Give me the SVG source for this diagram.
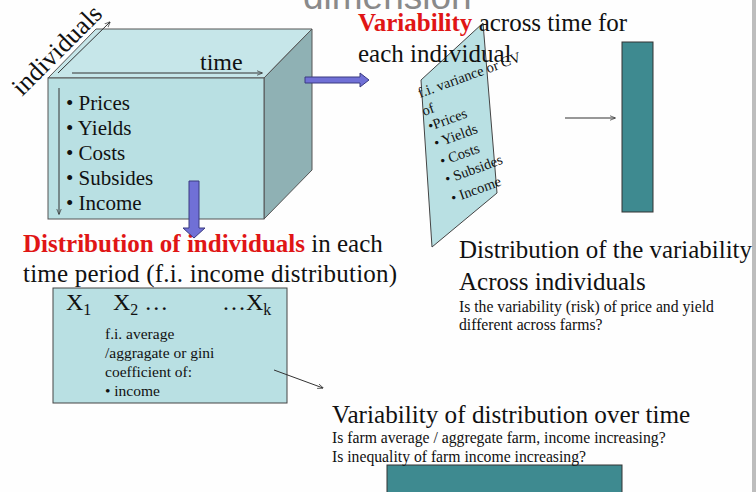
<svg xmlns="http://www.w3.org/2000/svg" width="756" height="492" viewBox="0 0 756 492">
<defs>
<style>
.s{font-family:"Liberation Serif","Times New Roman",serif;fill:#111}
.b{font-weight:bold;fill:#e01515}
.face{stroke:#555;stroke-width:1}
.ln{stroke:#333;stroke-width:1;fill:none}
.blk{fill:#3e8a90;stroke:#333;stroke-width:1}
.bar{fill:#7070d6;stroke:#3a3a80;stroke-width:1}
</style>
<marker id="ah" viewBox="0 0 10 10" refX="9" refY="5" markerWidth="6" markerHeight="6" orient="auto"><path d="M0,1 L10,5 L0,9" fill="none" stroke="#333" stroke-width="1.2"/></marker>
</defs>
<rect width="756" height="492" fill="#fefefe"/>
<rect x="752" y="0" width="4" height="492" fill="#bdbdbd"/>
<text x="303" y="9" font-family="Liberation Sans, Arial, sans-serif" font-size="37" fill="#8a8a8a">dimension</text>

<g id="cube">
<polygon class="face" points="48,78 96,29 312,29 264,78" fill="#c6e6e9"/>
<polygon class="face" points="264,78 312,29 312,170 264,219" fill="#8fb1b4"/>
<rect class="face" x="48" y="78" width="216" height="141" fill="#b9e0e3"/>
<text class="s" font-size="26" transform="translate(22,97) rotate(-45)">individuals</text>
<line class="ln" x1="58" y1="73" x2="110" y2="22" marker-end="url(#ah)"/>
<text class="s" x="200" y="70" font-size="24">time</text>
<line class="ln" x1="72" y1="73" x2="262" y2="73" marker-end="url(#ah)"/>
<line class="ln" x1="59" y1="88" x2="59" y2="214" marker-end="url(#ah)"/>
<text class="s" font-size="21"><tspan x="66" y="110">• Prices</tspan><tspan x="66" y="135">• Yields</tspan><tspan x="66" y="160">• Costs</tspan><tspan x="66" y="185">• Subsides</tspan><tspan x="66" y="210">• Income</tspan></text>
</g>

<g id="slice">
<polygon points="421,80 483,23 497,193 432,247" fill="#b9e0e3" stroke="#444" stroke-width="1"/>
</g>

<g id="title-variability">
<text class="s" x="358" y="31" font-size="25"><tspan class="b">Variability</tspan> across time for</text>
<text class="s" x="358" y="62" font-size="25">each individual</text>
</g>

<g id="slice-text" class="s" font-size="14.5">
<text x="420" y="98" transform="rotate(-20 420 98)">f.i. variance or CV</text>
<text x="424" y="116" transform="rotate(-20 424 116)">of</text>
<text x="430" y="131" transform="rotate(-20 430 131)">•Prices</text>
<text x="436" y="148" transform="rotate(-20 436 148)">• Yields</text>
<text x="442" y="166" transform="rotate(-20 442 166)">• Costs</text>
<text x="447" y="184" transform="rotate(-20 447 184)">• Subsides</text>
<text x="453" y="203" transform="rotate(-20 453 203)">• Income</text>
</g>

<g id="bar-right">
<rect class="blk" x="622" y="42" width="31" height="170"/>
</g>

<g id="distribution-box">
<rect x="53" y="288" width="234" height="115" fill="#b9e0e3" stroke="#444" stroke-width="1"/>
<text class="s" font-size="24" y="310"><tspan x="66">X</tspan><tspan font-size="16" dy="5">1</tspan><tspan x="113" dy="-5">X</tspan><tspan font-size="16" dy="5">2</tspan><tspan font-size="24" dy="-5"> …</tspan><tspan x="222">…X</tspan><tspan font-size="16" dy="5">k</tspan></text>
<text class="s" font-size="15.5"><tspan x="105" y="339">f.i. average</tspan><tspan x="105" y="358">/aggragate or gini</tspan><tspan x="105" y="377">coefficient  of:</tspan><tspan x="105" y="396">• income</tspan></text>
</g>

<g id="bar-bottom">
<rect class="blk" x="387" y="465" width="235" height="32"/>
</g>

<g id="labels">
<text class="s" x="23" y="252" font-size="25"><tspan class="b">Distribution of individuals</tspan> in each</text>
<text class="s" x="23" y="282" font-size="25" textLength="374">time period (f.i. income distribution)</text>
<text class="s" x="459" y="258" font-size="24.5" textLength="293" lengthAdjust="spacingAndGlyphs">Distribution of the variability</text>
<text class="s" x="459" y="290" font-size="25">Across individuals</text>
<text class="s" x="459" y="312" font-size="15.7">Is the variability (risk) of price and yield</text>
<text class="s" x="459" y="330" font-size="15.7">different across farms?</text>
<text class="s" x="332" y="423" font-size="25.2">Variability of distribution over time</text>
<text class="s" x="332" y="443" font-size="15.7">Is farm average / aggregate farm, income increasing?</text>
<text class="s" x="332" y="462" font-size="15.7">Is inequality of farm income increasing?</text>
</g>

<g id="connectors">
<polygon class="bar" points="189,181 199,181 199,228 205,228 194,238 183,228 189,228"/>
<polygon class="bar" points="305,77 360,77 360,73 369,80 360,87 360,83 305,83"/>
<line class="ln" x1="565" y1="118" x2="615" y2="118" marker-end="url(#ah)"/>
<line class="ln" x1="274" y1="370" x2="323" y2="388" marker-end="url(#ah)"/>
</g>
</svg>
